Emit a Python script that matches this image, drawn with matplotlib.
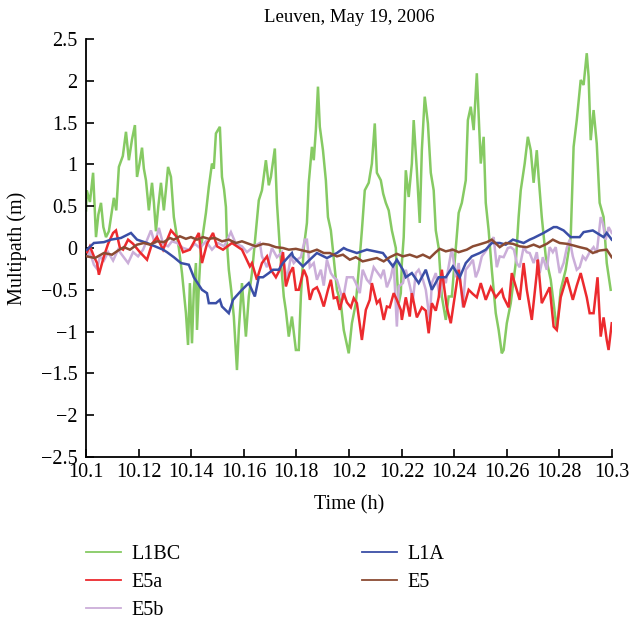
import matplotlib
matplotlib.use("Agg")
import matplotlib.pyplot as plt
from matplotlib.ticker import FuncFormatter

# ---------------- data ----------------
title = "Leuven, May 19, 2006"
xlabel = "Time (h)"
ylabel = "Multipath (m)"
series_names = ["L1BC", "E5a", "E5b", "L1A", "E5"]
series_colors = ["#86ca63", "#ec2a2e", "#cbaed9", "#3a4ea6", "#8b4b33"]

L1BC_t = [10.1000, 10.1003, 10.1015, 10.1027, 10.1038, 10.1047, 10.1057, 10.1066, 10.1076, 10.1087,
          10.1106, 10.1115, 10.1125, 10.1140, 10.1152, 10.1163, 10.1175, 10.1186, 10.1194, 10.1203,
          10.1213, 10.1220, 10.1228, 10.1239, 10.1251, 10.1258, 10.1266, 10.1275, 10.1285, 10.1296,
          10.1304, 10.1312, 10.1323, 10.1334, 10.1345, 10.1353, 10.1365, 10.1380, 10.1388, 10.1395,
          10.1403, 10.1410, 10.1418, 10.1422, 10.1430, 10.1437, 10.1446, 10.1456, 10.1467, 10.1479,
          10.1486, 10.1494, 10.1509, 10.1517, 10.1525, 10.1532, 10.1536, 10.1543, 10.1552, 10.1562,
          10.1574, 10.1581, 10.1593, 10.1608, 10.1619, 10.1631, 10.1646, 10.1657, 10.1669, 10.1684,
          10.1695, 10.1703, 10.1718, 10.1726, 10.1737, 10.1752, 10.1760, 10.1771, 10.1783, 10.1798,
          10.1809, 10.1817, 10.1828, 10.1840, 10.1847, 10.1859, 10.1866, 10.1874, 10.1882, 10.1889,
          10.1901, 10.1912, 10.1920, 10.1931, 10.1939, 10.1954, 10.1969, 10.1980, 10.1999, 10.2011,
          10.2026, 10.2037, 10.2049, 10.2060, 10.2075, 10.2087, 10.2098, 10.2106, 10.2121, 10.2130,
          10.2140, 10.2151, 10.2163, 10.2178, 10.2182, 10.2189, 10.2197, 10.2201, 10.2208, 10.2216,
          10.2227, 10.2239, 10.2246, 10.2258, 10.2269, 10.2277, 10.2288, 10.2300, 10.2311, 10.2322,
          10.2330, 10.2341, 10.2353, 10.2368, 10.2379, 10.2391, 10.2406, 10.2417, 10.2429, 10.2444,
          10.2452, 10.2463, 10.2474, 10.2486, 10.2501, 10.2512, 10.2520, 10.2531, 10.2543, 10.2558,
          10.2569, 10.2581, 10.2588, 10.2600, 10.2615, 10.2634, 10.2645, 10.2653, 10.2668, 10.2680,
          10.2691, 10.2702, 10.2714, 10.2721, 10.2733, 10.2748, 10.2767, 10.2778, 10.2790, 10.2805,
          10.2824, 10.2843, 10.2854, 10.2866, 10.2881, 10.2892, 10.2904, 10.2911, 10.2919, 10.2930,
          10.2942, 10.2953, 10.2968, 10.2980, 10.2995]
L1BC_v = [0.45, 0.69, 0.55, 0.90, 0.13, 0.40, 0.54, 0.25, 0.13, 0.20,
          0.60, 0.45, 0.97, 1.10, 1.39, 1.05, 1.30, 1.47, 0.85, 1.00,
          1.20, 0.95, 0.81, 0.45, 0.78, 0.55, 0.20, 0.50, 0.78, 0.45,
          0.70, 0.97, 0.85, 0.37, 0.15, 0.00, -0.30, -0.78, -1.16, -0.42,
          -1.14, -0.50, -0.18, -0.98, -0.40, 0.00, 0.20, 0.42, 0.73, 1.01,
          0.95, 1.37, 1.45, 0.85, 0.70, 0.49, 0.06, -0.26, -0.50, -0.82,
          -1.46, -0.98, -0.42, -1.06, -0.58, -0.30, 0.21, 0.57, 0.69, 1.05,
          0.75, 0.85, 1.19, 0.54, 0.00, -0.58, -0.75, -1.06, -0.82, -1.22,
          -1.22, -0.58, 0.00, 0.30, 0.78, 1.21, 1.05, 1.41, 1.93, 1.45,
          1.17, 0.81, 0.37, 0.21, -0.03, -0.50, -0.66, -0.98, -1.26, -0.90,
          -0.66, -0.26, 0.21, 0.69, 0.78, 1.01, 1.49, 0.90, 0.81, 0.65,
          0.54, 0.45, 0.21, 0.00, -0.30, -0.66, -0.54, -0.18, 0.13, 0.93,
          0.61, 1.01, 1.53, 0.93, 0.30, 1.17, 1.81, 1.49, 0.90, 0.69,
          0.21, 0.00, -0.58, -0.86, -0.58, -0.58, 0.00, 0.42, 0.54, 0.81,
          1.53, 1.69, 1.41, 2.09, 1.01, 1.33, 0.54, 0.21, -0.26, -0.78,
          -0.98, -1.26, -1.22, -0.90, -0.66, -0.18, 0.37, 0.69, 1.01, 1.33,
          1.17, 0.78, 1.17, 0.85, 0.37, -0.10, -0.38, -0.66, -0.98, -0.50,
          -0.26, 0.13, 1.21, 1.53, 2.01, 1.95, 2.33, 2.05, 1.29, 1.65,
          1.25, 0.54, 0.37, -0.18, -0.50]

E5a_t = [10.1004, 10.1015, 10.1030, 10.1042, 10.1049, 10.1068, 10.1084, 10.1103, 10.1114, 10.1129,
         10.1141, 10.1160, 10.1179, 10.1205, 10.1232, 10.1251, 10.1270, 10.1293, 10.1323, 10.1346,
         10.1369, 10.1395, 10.1429, 10.1441, 10.1460, 10.1483, 10.1498, 10.1521, 10.1555, 10.1593,
         10.1623, 10.1631, 10.1650, 10.1657, 10.1669, 10.1688, 10.1703, 10.1722, 10.1737, 10.1749,
         10.1760, 10.1775, 10.1787, 10.1798, 10.1809, 10.1828, 10.1840, 10.1851, 10.1863, 10.1878,
         10.1889, 10.1904, 10.1920, 10.1931, 10.1942, 10.1954, 10.1965, 10.1980, 10.1992, 10.2007,
         10.2018, 10.2030, 10.2049, 10.2064, 10.2079, 10.2087, 10.2106, 10.2117, 10.2132, 10.2144,
         10.2155, 10.2170, 10.2182, 10.2197, 10.2201, 10.2216, 10.2231, 10.2239, 10.2258, 10.2277,
         10.2292, 10.2303, 10.2315, 10.2330, 10.2341, 10.2353, 10.2372, 10.2387, 10.2406, 10.2417,
         10.2436, 10.2455, 10.2471, 10.2486, 10.2501, 10.2520, 10.2539, 10.2558, 10.2581, 10.2588,
         10.2607, 10.2619, 10.2638, 10.2649, 10.2664, 10.2676, 10.2695, 10.2714, 10.2718, 10.2733,
         10.2752, 10.2763, 10.2778, 10.2790, 10.2805, 10.2828, 10.2851, 10.2866, 10.2881, 10.2904,
         10.2915, 10.2930, 10.2945, 10.2957, 10.2968, 10.2980, 10.2987, 10.2999]
E5a_v = [-0.05, 0.02, -0.10, -0.18, -0.32, -0.10, 0.05, 0.18, 0.21, 0.00,
         -0.02, 0.10, 0.05, -0.05, -0.14, 0.05, 0.13, -0.02, 0.21, 0.13,
         -0.05, -0.02, 0.18, -0.18, 0.05, 0.18, 0.02, -0.02, 0.06, -0.02,
         -0.22, -0.18, -0.38, -0.30, -0.18, -0.10, -0.26, -0.35, -0.26, -0.05,
         -0.46, -0.30, -0.23, -0.50, -0.50, -0.26, -0.35, -0.62, -0.50, -0.47,
         -0.55, -0.70, -0.50, -0.38, -0.60, -0.59, -0.74, -0.54, -0.65, -0.71,
         -0.60, -0.66, -1.10, -0.74, -0.62, -0.42, -0.66, -0.62, -0.86, -0.70,
         -0.71, -0.54, -0.62, -0.74, -0.86, -0.59, -0.82, -0.54, -0.83, -0.71,
         -0.75, -1.02, -0.66, -0.75, -0.59, -0.26, -0.71, -0.90, -0.50, -0.26,
         -0.71, -0.50, -0.55, -0.59, -0.42, -0.62, -0.47, -0.59, -0.50, -0.59,
         -0.71, -0.30, -0.50, -0.62, -0.18, -0.50, -0.86, -0.30, -0.14, -0.66,
         -0.54, -0.47, -0.94, -0.98, -0.59, -0.35, -0.62, -0.45, -0.30, -0.59,
         -0.78, -0.78, -0.35, -1.06, -0.83, -1.10, -1.22, -0.90]

E5b_t = [10.1004, 10.1015, 10.1030, 10.1042, 10.1053, 10.1068, 10.1084, 10.1103, 10.1122, 10.1141,
         10.1160, 10.1179, 10.1198, 10.1217, 10.1247, 10.1262, 10.1277, 10.1293, 10.1312, 10.1327,
         10.1346, 10.1369, 10.1391, 10.1414, 10.1433, 10.1456, 10.1479, 10.1502, 10.1525, 10.1551,
         10.1570, 10.1593, 10.1612, 10.1638, 10.1661, 10.1669, 10.1688, 10.1707, 10.1726, 10.1745,
         10.1764, 10.1779, 10.1790, 10.1802, 10.1817, 10.1832, 10.1840, 10.1851, 10.1866, 10.1878,
         10.1893, 10.1904, 10.1916, 10.1931, 10.1942, 10.1954, 10.1969, 10.1977, 10.1992, 10.2015,
         10.2026, 10.2041, 10.2052, 10.2068, 10.2079, 10.2094, 10.2110, 10.2121, 10.2132, 10.2144,
         10.2159, 10.2170, 10.2182, 10.2189, 10.2205, 10.2216, 10.2231, 10.2243, 10.2254, 10.2265,
         10.2281, 10.2292, 10.2307, 10.2315, 10.2330, 10.2345, 10.2357, 10.2368, 10.2391, 10.2406,
         10.2417, 10.2433, 10.2444, 10.2459, 10.2471, 10.2482, 10.2493, 10.2505, 10.2524, 10.2535,
         10.2550, 10.2562, 10.2573, 10.2588, 10.2604, 10.2615, 10.2627, 10.2638, 10.2649, 10.2664,
         10.2676, 10.2687, 10.2702, 10.2714, 10.2725, 10.2737, 10.2752, 10.2763, 10.2775, 10.2786,
         10.2801, 10.2816, 10.2828, 10.2839, 10.2851, 10.2866, 10.2877, 10.2889, 10.2900, 10.2915,
         10.2930, 10.2942, 10.2957, 10.2965, 10.2976, 10.2987, 10.2999]
E5b_v = [-0.10, -0.05, -0.20, -0.25, -0.10, -0.15, -0.05, -0.15, -0.02, -0.10,
         -0.18, -0.05, -0.10, -0.02, 0.21, 0.05, 0.24, 0.05, 0.02, 0.08,
         0.06, 0.00, -0.02, 0.05, 0.00, 0.08, -0.02, 0.06, 0.02, 0.19,
         0.05, 0.02, -0.05, 0.02, 0.06, -0.10, -0.23, 0.00, -0.11, -0.05,
         -0.38, -0.10, -0.18, -0.14, -0.11, 0.10, 0.10, -0.23, -0.18, -0.38,
         -0.26, -0.45, -0.14, -0.30, -0.35, -0.38, -0.54, -0.62, -0.35, -0.35,
         -0.42, -0.54, -0.26, -0.38, -0.42, -0.23, -0.30, -0.35, -0.26, -0.47,
         -0.35, -0.18, -0.94, -0.46, -0.42, -0.26, -0.45, -0.62, -0.30, -0.26,
         -0.38, -0.50, -0.86, -0.42, -0.30, -0.59, -0.35, -0.42, 0.00, -0.35,
         -0.18, -0.71, -0.26, -0.20, -0.14, -0.35, -0.26, -0.10, -0.02, 0.05,
         0.13, -0.23, -0.10, -0.11, 0.00, 0.01, -0.02, -0.18, -0.23, 0.01,
         -0.05, -0.06, -0.18, -0.05, -0.30, -0.11, -0.26, 0.01, -0.05, 0.01,
         -0.30, -0.18, 0.00, 0.10, -0.10, -0.26, -0.23, -0.10, -0.14, -0.05,
         0.01, -0.06, 0.37, 0.30, 0.10, 0.25, 0.18]

L1A_t = [10.1004, 10.1030, 10.1068, 10.1095, 10.1133, 10.1171, 10.1194, 10.1232, 10.1270, 10.1293,
         10.1308, 10.1334, 10.1361, 10.1391, 10.1410, 10.1441, 10.1460, 10.1467, 10.1494, 10.1509,
         10.1517, 10.1543, 10.1559, 10.1570, 10.1593, 10.1619, 10.1642, 10.1657, 10.1673, 10.1695,
         10.1711, 10.1733, 10.1749, 10.1760, 10.1783, 10.1787, 10.1825, 10.1851, 10.1878, 10.1916,
         10.1954, 10.1980, 10.1992, 10.2030, 10.2068, 10.2129, 10.2167, 10.2182, 10.2205, 10.2216,
         10.2239, 10.2265, 10.2292, 10.2315, 10.2341, 10.2368, 10.2395, 10.2421, 10.2444, 10.2467,
         10.2497, 10.2520, 10.2543, 10.2573, 10.2596, 10.2623, 10.2664, 10.2687, 10.2702, 10.2740,
         10.2778, 10.2790, 10.2816, 10.2843, 10.2877, 10.2892, 10.2927, 10.2968, 10.2980, 10.2999]
L1A_v = [-0.02, 0.06, 0.07, 0.10, 0.12, 0.18, 0.10, 0.06, 0.01, -0.02,
         -0.05, -0.11, -0.18, -0.20, -0.35, -0.50, -0.54, -0.66, -0.66, -0.62,
         -0.70, -0.78, -0.62, -0.58, -0.50, -0.42, -0.58, -0.35, -0.35, -0.30,
         -0.26, -0.26, -0.18, -0.14, -0.06, -0.10, -0.22, -0.14, -0.06, -0.12,
         -0.06, 0.00, -0.02, -0.06, -0.02, -0.06, -0.22, -0.14, -0.26, -0.35,
         -0.30, -0.42, -0.26, -0.50, -0.35, -0.35, -0.22, -0.35, -0.18, -0.10,
         -0.06, -0.02, 0.06, 0.06, 0.04, 0.10, 0.06, 0.10, 0.12, 0.18,
         0.25, 0.25, 0.21, 0.13, 0.13, 0.19, 0.21, 0.13, 0.18, 0.10]

E5_t = [10.1004, 10.1034, 10.1068, 10.1099, 10.1122, 10.1144, 10.1167, 10.1194, 10.1220, 10.1243,
        10.1270, 10.1296, 10.1319, 10.1334, 10.1357, 10.1380, 10.1399, 10.1422, 10.1445, 10.1467,
        10.1490, 10.1517, 10.1543, 10.1570, 10.1593, 10.1619, 10.1646, 10.1673, 10.1695, 10.1722,
        10.1749, 10.1771, 10.1798, 10.1825, 10.1851, 10.1878, 10.1904, 10.1927, 10.1954, 10.1977,
        10.2003, 10.2026, 10.2052, 10.2079, 10.2106, 10.2132, 10.2155, 10.2182, 10.2205, 10.2231,
        10.2258, 10.2281, 10.2307, 10.2330, 10.2345, 10.2368, 10.2395, 10.2417, 10.2448, 10.2471,
        10.2493, 10.2524, 10.2543, 10.2573, 10.2596, 10.2623, 10.2649, 10.2676, 10.2702, 10.2725,
        10.2752, 10.2775, 10.2801, 10.2828, 10.2854, 10.2877, 10.2904, 10.2927, 10.2953, 10.2980,
        10.2999]
E5_v = [-0.10, -0.12, -0.06, -0.08, -0.03, 0.01, -0.02, 0.04, 0.06, 0.04,
        0.08, 0.07, 0.12, 0.10, 0.14, 0.11, 0.13, 0.10, 0.13, 0.11,
        0.12, 0.08, 0.10, 0.06, 0.08, 0.05, 0.02, 0.05, 0.04, 0.01,
        0.00, -0.02, -0.01, -0.03, -0.05, -0.02, -0.06, -0.06, -0.10, -0.08,
        -0.14, -0.11, -0.16, -0.14, -0.12, -0.16, -0.11, -0.07, -0.10, -0.08,
        -0.11, -0.08, -0.12, -0.05, -0.01, -0.04, -0.02, -0.05, -0.02, 0.02,
        0.04, 0.07, 0.10, 0.01, 0.06, 0.05, 0.02, 0.01, 0.04, 0.01,
        0.05, 0.10, 0.06, 0.05, 0.03, 0.01, -0.01, -0.06, -0.03, -0.02,
        -0.11]

x_ticks = [10.1, 10.12, 10.14, 10.16, 10.18, 10.2, 10.22, 10.24, 10.26, 10.28, 10.3]
y_ticks = [-2.5, -2, -1.5, -1, -0.5, 0, 0.5, 1, 1.5, 2, 2.5]

# ---------------- plotting ----------------
plt.rcParams['font.family'] = ['Liberation Serif', 'DejaVu Serif']
plt.rcParams['axes.unicode_minus'] = True

fig = plt.figure(figsize=(6.3, 6.2), dpi=100)
ax = fig.add_axes([86/630, 1 - 457/620, (612 - 86)/630, (457 - 39)/620])

data = {
    "L1BC": (L1BC_t, L1BC_v),
    "E5a": (E5a_t, E5a_v),
    "E5b": (E5b_t, E5b_v),
    "L1A": (L1A_t, L1A_v),
    "E5": (E5_t, E5_v),
}
zorders = {"L1BC": 1, "E5b": 2, "E5a": 3, "L1A": 4, "E5": 5}
handles = []
for name, col in zip(series_names, series_colors):
    t, v = data[name]
    ln, = ax.plot(t, v, color=col, lw=1.8, zorder=zorders[name], label=name,
                  solid_joinstyle='miter')
    handles.append(ln)

ax.set_xlim(10.1, 10.3)
ax.set_ylim(-2.5, 2.5)
ax.set_xticks(x_ticks)
ax.set_yticks(y_ticks)
fmt = FuncFormatter(lambda v, p: ("%g" % v).replace("-", "\u2212"))
ax.xaxis.set_major_formatter(fmt)
ax.yaxis.set_major_formatter(fmt)
for s in ["top", "right"]:
    ax.spines[s].set_visible(False)
for s in ["left", "bottom"]:
    ax.spines[s].set_linewidth(1.3)
ax.tick_params(direction='in', length=6, width=1.2, labelsize=14.5, pad=6)
ax.tick_params(axis='x', pad=4)

ax.set_title(title, fontsize=13.5, pad=12)
ax.set_xlabel(xlabel, fontsize=14.5, labelpad=10)
ax.set_ylabel(ylabel, fontsize=14.5, labelpad=10)

leg = fig.legend(handles=handles, labels=series_names, ncol=2, frameon=False,
                 loc='upper left', bbox_to_anchor=(86/630, 1 - 545/620), borderpad=0,
                 borderaxespad=0, fontsize=14.5,
                 handlelength=1.75, columnspacing=9.0, labelspacing=0.45, handletextpad=0.5)
for l in leg.get_lines():
    l.set_linewidth(1.3)

fig.savefig("out.png", dpi=100)
